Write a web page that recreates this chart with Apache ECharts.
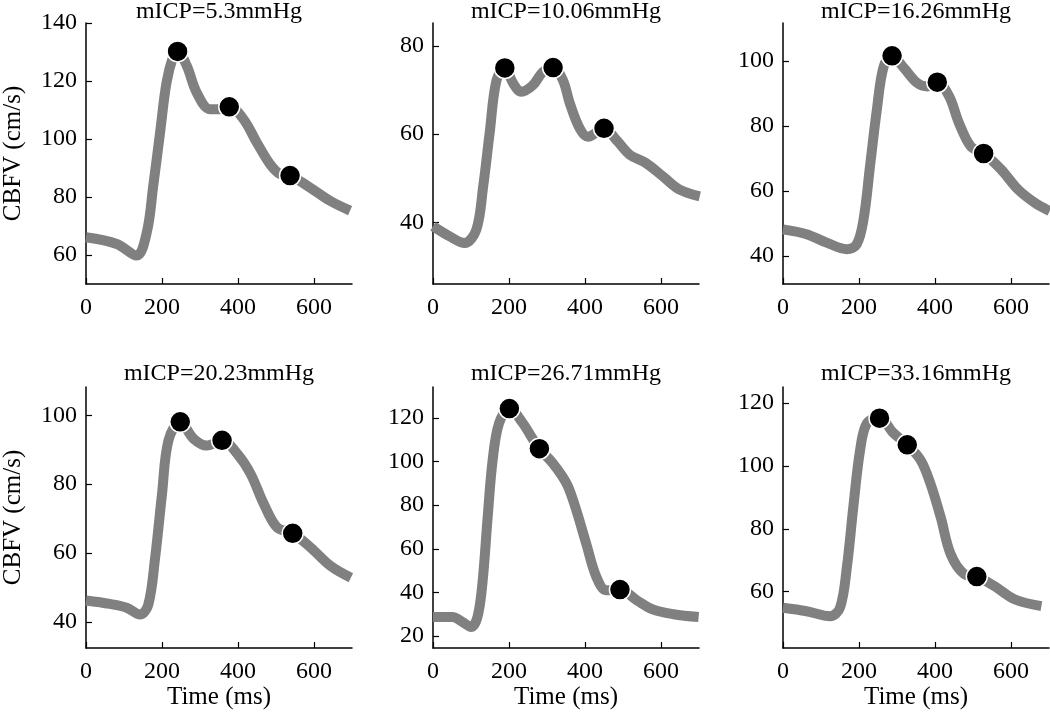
<!DOCTYPE html>
<html><head><meta charset="utf-8">
<script src="https://cdn.jsdelivr.net/npm/echarts@6/dist/echarts.min.js"></script>
<style>html,body{margin:0;padding:0;background:#fff}#c{width:1050px;height:715px}</style>
</head><body><div id="c"></div>
<script>
// ---- data ----
const panelTitles = ['mICP=5.3mmHg','mICP=10.06mmHg','mICP=16.26mmHg','mICP=20.23mmHg','mICP=26.71mmHg','mICP=33.16mmHg'];
const xTicks = [0, 200, 400, 600];
const xLimits = [0, 700];

const time1 = [0,81,133,160,177,195,212,230,241,265,291,326,353,377,414,449,484,511,537,589,642,695];
const cbfv1 = [66.1,63.8,59.8,67.8,83.9,102.3,119.5,128.7,130.2,125.3,116.1,110.3,110.3,111.1,106.9,98.9,91.4,87.9,87.4,83.3,78.7,75.3];
const markT1 = [241,377,537];
const markV1 = [130.2,111.1,87.4];

const time2 = [0,44,83,114,132,149,167,189,211,232,263,289,316,342,360,386,408,450,482,518,561,605,649,702];
const cbfv2 = [39.1,36.8,35.3,38.3,48.1,60.2,72.2,75.0,71.5,69.6,71.1,74.1,75.1,72.2,67.0,61.3,59.4,61.3,58.7,55.3,53.4,50.4,47.4,45.9];
const markT2 = [189,316,450];
const markV2 = [75.0,75.1,61.3];

const time3 = [0,62,115,168,194,212,229,247,265,287,318,353,380,406,437,463,494,528,574,618,662,702];
const cbfv3 = [48.2,46.7,44.1,42.1,43.6,51.3,67.6,85.0,98.3,101.5,97.8,93.2,92.1,93.4,89.1,80.9,73.7,71.5,66.6,60.5,56.4,53.8];
const markT3 = [287,406,528];
const markV3 = [101.5,93.4,71.5];

const time4 = [0,63,107,142,164,182,200,217,248,283,318,358,398,433,468,503,544,591,644,697];
const cbfv4 = [46.2,45.2,44.1,42.1,45.0,58.7,77.1,92.7,98.1,93.2,91.2,92.7,88.8,83.0,74.2,67.4,65.7,61.6,56.2,52.8];
const markT4 = [248,358,544];
const markV4 = [98.1,92.7,65.7];

const time5 = [0,51,78,100,117,130,144,157,174,201,236,258,280,315,351,374,403,430,456,492,536,580,633,699];
const cbfv5 = [28.7,28.7,26.4,24.1,28.7,44.1,74.8,100.8,117.7,124.3,117.7,111.6,105.9,99.3,90.1,79.4,62.5,47.1,41.0,41.3,36.4,32.1,30.0,28.7];
const markT5 = [201,280,492];
const markV5 = [124.3,105.9,41.3];

const time6 = [0,62,124,150,168,185,203,221,254,291,327,362,388,415,441,477,510,556,609,680];
const cbfv6 = [54.9,53.8,52.2,54.9,67.7,86.9,105.1,113.6,115.2,110.4,106.7,101.9,94.4,83.7,72.0,65.6,64.8,61.8,57.6,55.4];
const markT6 = [254,327,510];
const markV6 = [115.2,106.7,64.8];

const yTicks1 = [60,80,100,120,140];
const yTicks2 = [40,60,80];
const yTicks3 = [40,60,80,100];
const yTicks4 = [40,60,80,100];
const yTicks5 = [20,40,60,80,100,120];
const yTicks6 = [60,80,100,120];
const yLimits1 = [50,140];
const yLimits2 = [26,85.2];
const yLimits3 = [31.4,111.6];
const yLimits4 = [32.4,108.2];
const yLimits5 = [14.5,134.2];
const yLimits6 = [42.1,125.1];

// ---- build ----
const panels = [
  {t:time1,v:cbfv1,mt:markT1,mv:markV1,yt:yTicks1,yl:yLimits1},
  {t:time2,v:cbfv2,mt:markT2,mv:markV2,yt:yTicks2,yl:yLimits2},
  {t:time3,v:cbfv3,mt:markT3,mv:markV3,yt:yTicks3,yl:yLimits3},
  {t:time4,v:cbfv4,mt:markT4,mv:markV4,yt:yTicks4,yl:yLimits4},
  {t:time5,v:cbfv5,mt:markT5,mv:markV5,yt:yTicks5,yl:yLimits5},
  {t:time6,v:cbfv6,mt:markT6,mv:markV6,yt:yTicks6,yl:yLimits6}
];
const colLeft = [86, 433, 783];
const rowTop = [23, 387];
const gw = 266, gh = 261;
const FONT = 'Liberation Serif';

const grid = [], xAxis = [], yAxis = [], series = [], title = [];
panels.forEach((p, i) => {
  const col = i % 3, row = Math.floor(i / 3);
  grid.push({left: colLeft[col], top: rowTop[row], width: gw, height: gh, containLabel: false});
  title.push({
    text: panelTitles[i],
    left: colLeft[col] + gw / 2, top: row === 0 ? 0 : 362,
    textAlign: 'center', padding: 0,
    textStyle: {fontFamily: FONT, fontSize: 24, fontWeight: 'normal', color: '#000'}
  });
  xAxis.push({
    type: 'value', gridIndex: i, min: xLimits[0], max: xLimits[1], interval: 200,
    splitLine: {show: false},
    axisLine: {lineStyle: {color: '#000', width: 1.5}},
    axisTick: {inside: true, length: 6, lineStyle: {color: '#000', width: 1.2}, customValues: xTicks},
    axisLabel: {fontFamily: FONT, fontSize: 24, color: '#000', margin: 12, customValues: xTicks},
    name: row === 1 ? 'Time (ms)' : '', nameLocation: 'middle', nameGap: 36,
    nameTextStyle: {fontFamily: FONT, fontSize: 25, color: '#000'}
  });
  yAxis.push({
    type: 'value', gridIndex: i, min: p.yl[0], max: p.yl[1],
    splitLine: {show: false},
    axisLine: {show: true, lineStyle: {color: '#000', width: 1.5}},
    axisTick: {show: true, inside: true, length: 6, lineStyle: {color: '#000', width: 1.2}, customValues: p.yt},
    axisLabel: {fontFamily: FONT, fontSize: 24, color: '#000', margin: 9, customValues: p.yt},
    name: col === 0 ? 'CBFV (cm/s)' : '', nameLocation: 'middle', nameRotate: 90, nameGap: 60,
    nameTextStyle: {fontFamily: FONT, fontSize: 25, color: '#000'}
  });
  series.push({
    type: 'line', xAxisIndex: i, yAxisIndex: i,
    data: p.t.map((t, k) => [t, p.v[k]]),
    smooth: 0.35, showSymbol: false, symbol: 'none',
    lineStyle: {color: '#808080', width: 10, cap: 'butt', join: 'round'},
    animation: false, z: 2
  });
  series.push({
    type: 'scatter', xAxisIndex: i, yAxisIndex: i,
    data: p.mt.map((t, k) => [t, p.mv[k]]),
    symbol: 'circle', symbolSize: 21,
    itemStyle: {color: '#000', borderColor: '#fff', borderWidth: 1.5, opacity: 1},
    animation: false, z: 3
  });
});

const chart = echarts.init(document.getElementById('c'), null, {renderer: 'canvas'});
chart.setOption({backgroundColor: '#fff', animation: false, title, grid, xAxis, yAxis, series});
</script>
</body></html>
